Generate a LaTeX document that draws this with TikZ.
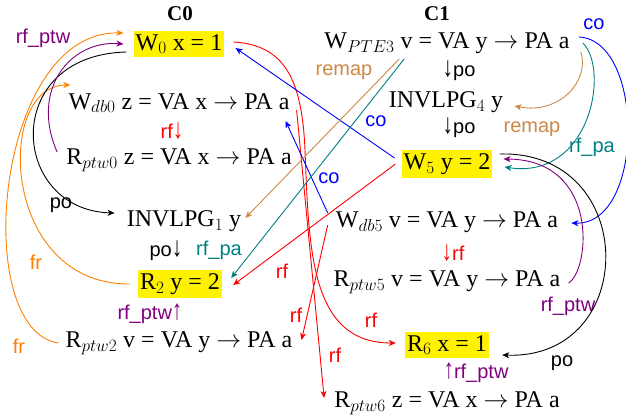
\documentclass[tikz,border=0pt]{standalone}
\usepackage{fontspec}
\setmainfont{Liberation Serif}
\newfontfamily\labelfont{Liberation Sans}
\usetikzlibrary{arrows.meta,calc}
\definecolor{myorange}{RGB}{255,128,0}
\definecolor{mypurple}{RGB}{128,0,128}
\definecolor{myteal}{RGB}{0,128,128}
\definecolor{mybrown}{RGB}{204,136,68}
\definecolor{myred}{RGB}{255,0,0}
\definecolor{myblue}{RGB}{0,0,255}
\definecolor{hl}{RGB}{255,242,0}
\newcommand\mydn{\scalebox{1.05}[1.4]{↓}}
\newcommand\myup{\scalebox{1.05}[1.4]{↑}}
\begin{document}
\begin{tikzpicture}[x=1pt,y=-1pt,
  ev/.style={inner sep=0pt, font=\fontsize{24}{28}\selectfont},
  hev/.style={ev, fill=hl, inner xsep=2pt, inner ysep=3pt},
  ttl/.style={font=\fontsize{21}{24}\selectfont\bfseries},
  lab/.style={font=\labelfont\fontsize{20}{24}\selectfont, inner sep=0pt},
  rel/.style={line width=0.9pt, -{Stealth[length=7pt,width=6pt,inset=2pt]}},
]
\useasboundingbox (0,0) rectangle (626,417);
% titles
\node[ttl] (C0) at (180,14) {C0};
\node[ttl] (C1) at (437,14) {C1};
% C0 events
\node[hev] (W0) at (179,44) {W$_0$ x = 1};
\node[ev] (Wdb0) at (179,103) {W$_{db0}$ z = VA x $\rightarrow$ PA a};
\node[ev] (Rptw0) at (179,160) {R$_{ptw0}$ z = VA x $\rightarrow$ PA a};
\node[ev] (INV1) at (184,221) {INVLPG$_1$ y};
\node[hev] (R2) at (180,284) {R$_2$ y = 2};
\node[ev] (Rptw2) at (179,343) {R$_{ptw2}$ v = VA y $\rightarrow$ PA a};
% C1 events
\node[ev] (WPTE3) at (447,43) {W$_{PTE3}$ v = VA y $\rightarrow$ PA a};
\node[ev] (INV4) at (446,102) {INVLPG$_4$ y};
\node[hev] (W5) at (447,164) {W$_5$ y = 2};
\node[ev] (Wdb5) at (447,222) {W$_{db5}$ v = VA y $\rightarrow$ PA a};
\node[ev] (Rptw5) at (447,282) {R$_{ptw5}$ v = VA y $\rightarrow$ PA a};
\node[hev] (R6) at (447,345) {R$_6$ x = 1};
\node[ev] (Rptw6) at (447,403) {R$_{ptw6}$ z = VA x $\rightarrow$ PA a};
% short relation labels between rows
\node[lab, text=myred] (l1) at (172,131) {rf\mydn};
\node[lab] (l2) at (166,251) {po\mydn};
\node[lab, text=myteal] (l3) at (219,250) {rf\_pa};
\node[lab, text=mypurple] (l4) at (150,314) {rf\_ptw\myup};
\node[lab] (l5) at (459,71) {\mydn po};
\node[lab] (l6) at (459,128) {\mydn po};
\node[lab, text=myred] (l7) at (453,253) {\mydn rf};
\node[lab, text=mypurple] (l8) at (476,373) {\myup rf\_ptw};
% edge labels
\node[lab, text=mypurple] (l9) at (43,38) {rf\_ptw};
\node[lab] (l10) at (61,205) {po};
\node[lab, text=myorange] (l11) at (36,262) {fr};
\node[lab, text=myorange] (l12) at (19,346) {fr};
\node[lab, text=mybrown] (l13) at (344,72) {remap};
\node[lab, text=myblue] (l14) at (594,24) {co};
\node[lab, text=myblue] (l15) at (376,121) {co};
\node[lab, text=mybrown] (l16) at (532,129) {remap};
\node[lab, text=myteal] (l17) at (592,147) {rf\_pa};
\node[lab, text=myblue] (l18) at (329,178) {co};
\node[lab, text=mypurple] (l19) at (568,306) {rf\_ptw};
\node[lab] (l20) at (562,363) {po};
\node[lab, text=myred] (l21) at (282,271) {rf};
\node[lab, text=myred] (l22) at (296,315) {rf};
\node[lab, text=myred] (l23) at (335,355) {rf};
\node[lab, text=myred] (l24) at (371,320) {rf};
% left side curves
\draw[rel, myorange] ($(Rptw2.west)+(-7,0)$) .. controls (-30,330) and (-5,30) .. ($(W0.west)+(-10,-11)$);
\draw[rel, myorange] ($(R2.west)+(-8,0)$) .. controls (0,285) and (-5,85) .. ($(Wdb0.west)+(2,-18)$);
\draw[rel, black] ($(W0.west)+(-7,8)$) .. controls (0,55) and (10,210) .. ($(INV1.west)+(-12,-8)$);
\draw[rel, mypurple] ($(Rptw0.west)+(-9,-8)$) .. controls (30,90) and (70,40) .. ($(W0.west)+(-10,0)$);
% rf edges
\draw[rel, myred] ($(W0.east)+(9,-2)$) .. controls (285,45) and (302,80) .. (305,150)
  .. controls (309,250) and (310,343) .. ($(R6.west)+(-9,-2)$);
\draw[rel, myred] ($(Wdb0.east)+(7,7)$) -- ($(Rptw6.west)+(-10,-5)$);
\draw[rel, myred] ($(Wdb5.west)+(-8,3)$) -- ($(Rptw2.east)+(9,-3)$);
\draw[rel, myred] ($(W5.west)+(-6,0)$) -- ($(R2.east)+(11,1)$);
% co edges
\draw[rel, myblue] ($(W5.west)+(-7,-6)$) -- ($(W0.east)+(11,4)$);
\draw[rel, myblue] ($(Wdb5.west)+(-8,-9)$) -- ($(Wdb0.east)+(-4,18)$);
\draw[rel, myblue] ($(WPTE3.east)+(9,-6)$) .. controls (645,40) and (645,225) .. ($(Wdb5.east)+(13,1)$);
% remap and rf_pa
\draw[rel, mybrown] ($(WPTE3.east)+(11,9)$) .. controls (590,80) and (560,115) .. ($(INV4.east)+(11,4)$);
\draw[rel, myteal] ($(WPTE3.east)+(13,0)$) .. controls (610,70) and (590,180) .. ($(W5.east)+(12,3)$);
\draw[rel, mybrown] ($(WPTE3.west)+(75,16)$) -- ($(INV1.east)+(4,-3)$);
\draw[rel, myteal] ($(WPTE3.west)+(80,16)$) -- ($(R2.east)+(9,-6)$);
% right side curves
\draw[rel, mypurple] ($(Rptw5.east)+(8,1)$) .. controls (590,270) and (600,160) .. ($(W5.east)+(11,-5)$);
\draw[rel, black] ($(W5.east)+(7,-10)$) .. controls (640,150) and (640,360) .. ($(R6.east)+(13,10)$);
\end{tikzpicture}
\end{document}
